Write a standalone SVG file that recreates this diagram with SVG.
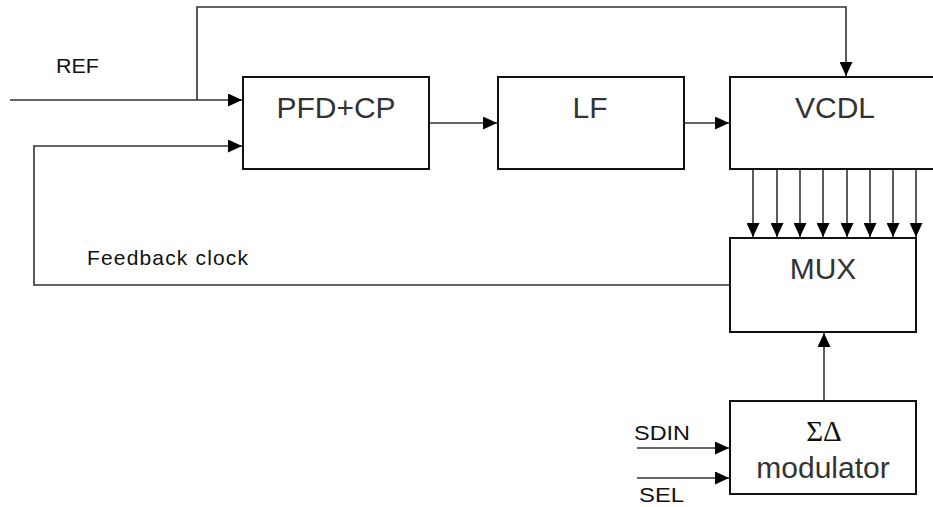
<svg xmlns="http://www.w3.org/2000/svg" width="933" height="507" viewBox="0 0 933 507">
<style>
.box{fill:#fff;stroke:#111;stroke-width:2}
.w{fill:none;stroke:#333;stroke-width:1.6}
.big{font-family:"Liberation Sans",Arial,sans-serif;font-size:30px;fill:#333;text-anchor:middle}
.sm{font-family:"Liberation Sans",Arial,sans-serif;font-size:21px;fill:#111}
.sym{font-family:"Liberation Serif","Times New Roman",serif;font-size:29px;fill:#111;text-anchor:middle}
</style>
<defs>
<marker id="ah" markerUnits="userSpaceOnUse" markerWidth="14" markerHeight="13" refX="14" refY="6.5" orient="auto">
<path d="M0,0 L14,6.5 L0,13 z" fill="#000"/>
</marker>
</defs>
<rect width="933" height="507" fill="#fff"/>
<g id="connectors">
<path class="w" d="M10,100 H242" marker-end="url(#ah)"/>
<path class="w" d="M197,100 V7 H846 V76" marker-end="url(#ah)"/>
<path class="w" d="M730,285 H34 V146 H242" marker-end="url(#ah)"/>
<path class="w" d="M429,123 H497" marker-end="url(#ah)"/>
<path class="w" d="M684,123 H729" marker-end="url(#ah)"/>
<path class="w" d="M753,169 V237" marker-end="url(#ah)"/>
<path class="w" d="M777,169 V237" marker-end="url(#ah)"/>
<path class="w" d="M800,169 V237" marker-end="url(#ah)"/>
<path class="w" d="M823,169 V237" marker-end="url(#ah)"/>
<path class="w" d="M847,169 V237" marker-end="url(#ah)"/>
<path class="w" d="M870,169 V237" marker-end="url(#ah)"/>
<path class="w" d="M893,169 V237" marker-end="url(#ah)"/>
<path class="w" d="M916,169 V237" marker-end="url(#ah)"/>
<path class="w" d="M824,401 V333" marker-end="url(#ah)"/>
<path class="w" d="M637,448 H729" marker-end="url(#ah)"/>
<path class="w" d="M637,478 H729" marker-end="url(#ah)"/>
</g>
<g id="pfdcp">
<rect class="box" x="243" y="77" width="186" height="92"/>
<text class="big" x="336" y="118">PFD+CP</text>
</g>
<g id="lf">
<rect class="box" x="498" y="77" width="186" height="92"/>
<text class="big" x="590" y="118">LF</text>
</g>
<g id="vcdl">
<rect class="box" x="730" y="77" width="215" height="92"/>
<text class="big" x="835" y="118">VCDL</text>
</g>
<g id="mux">
<rect class="box" x="730" y="238" width="186" height="94"/>
<text class="big" x="823" y="279">MUX</text>
</g>
<g id="sdm">
<rect class="box" x="730" y="401" width="186" height="93"/>
<text class="sym" x="824" y="441">ΣΔ</text>
<text class="big" x="823" y="478">modulator</text>
</g>
<g id="labels">
<text class="sm" x="56" y="73" textLength="43" lengthAdjust="spacingAndGlyphs">REF</text>
<text class="sm" x="87" y="265" textLength="161" lengthAdjust="spacing">Feedback clock</text>
<text class="sm" x="634" y="440" textLength="56" lengthAdjust="spacingAndGlyphs">SDIN</text>
<text class="sm" x="639" y="502" textLength="45" lengthAdjust="spacingAndGlyphs">SEL</text>
</g>
</svg>
